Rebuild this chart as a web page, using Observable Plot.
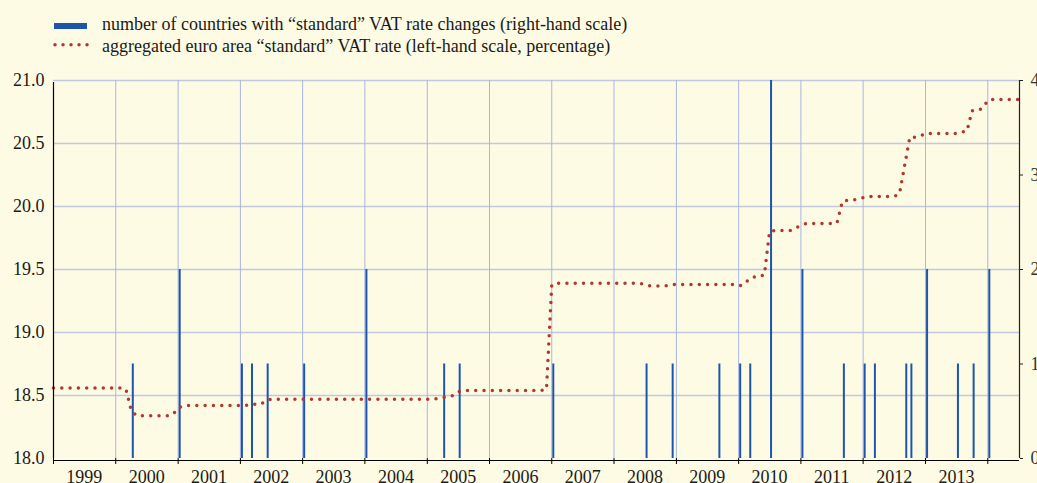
<!DOCTYPE html>
<html>
<head>
<meta charset="utf-8">
<script src="https://cdn.jsdelivr.net/npm/d3@7"></script>
<script src="https://cdn.jsdelivr.net/npm/@observablehq/plot@0.6"></script>
<style>
  html, body { margin: 0; padding: 0; background: #fefbe4; }
  #wrap { width: 1037px; height: 483px; overflow: hidden; position: relative; }
  #legend { position: relative; height: 60px; font-family: "Liberation Serif", serif; font-size: 18px; color: #1a1a1a; }
  #legend .t { position: absolute; left: 102px; line-height: 18px; white-space: nowrap; }
</style>
</head>
<body>
<div id="wrap">
  <div id="legend">
    <div style="position:absolute;left:54px;top:23px;width:33px;height:6px;background:#1d55ad;"></div>
    <div class="t" style="top:15px;">number of countries with “standard” VAT rate changes (right-hand scale)</div>
    <svg style="position:absolute;left:50px;top:40px;" width="45" height="10">
      <line x1="5" y1="4.7" x2="37.01" y2="4.7" stroke="#b0392f" stroke-width="3.5" stroke-linecap="round" stroke-dasharray="0 8"></line>
    </svg>
    <div class="t" style="top:37px;">aggregated euro area “standard” VAT rate (left-hand scale, percentage)</div>
  </div>
  <div id="chart"></div>
</div>
<script>
// ---- data ----
// Aggregated euro area standard VAT rate, monthly, starting January 1999
const vatStartYear = 1999;
const vatRate = [
  // 1999
  18.56, 18.56, 18.56, 18.56, 18.56, 18.56, 18.56, 18.56, 18.56, 18.56, 18.56, 18.56,
  // 2000
  18.56, 18.56, 18.55, 18.38, 18.34, 18.34, 18.34, 18.34, 18.34, 18.34, 18.34, 18.35,
  // 2001
  18.40, 18.42, 18.42, 18.42, 18.42, 18.42, 18.42, 18.42, 18.42, 18.42, 18.42, 18.42,
  // 2002
  18.42, 18.42, 18.43, 18.43, 18.43, 18.46, 18.47, 18.47, 18.47, 18.47, 18.47, 18.47,
  // 2003
  18.47, 18.47, 18.47, 18.47, 18.47, 18.47, 18.47, 18.47, 18.47, 18.47, 18.47, 18.47,
  // 2004
  18.47, 18.47, 18.47, 18.47, 18.47, 18.47, 18.47, 18.47, 18.47, 18.47, 18.47, 18.47,
  // 2005
  18.47, 18.47, 18.475, 18.485, 18.49, 18.50, 18.53, 18.54, 18.54, 18.54, 18.54, 18.54,
  // 2006
  18.54, 18.54, 18.54, 18.54, 18.54, 18.54, 18.54, 18.54, 18.54, 18.54, 18.54, 18.55,
  // 2007
  19.38, 19.39, 19.39, 19.39, 19.39, 19.39, 19.39, 19.39, 19.39, 19.39, 19.39, 19.39,
  // 2008
  19.39, 19.39, 19.39, 19.39, 19.39, 19.39, 19.38, 19.37, 19.37, 19.37, 19.37, 19.38,
  // 2009
  19.38, 19.38, 19.38, 19.38, 19.38, 19.38, 19.38, 19.38, 19.38, 19.38, 19.38, 19.38,
  // 2010
  19.37, 19.38, 19.42, 19.44, 19.44, 19.46, 19.80, 19.81, 19.81, 19.81, 19.81, 19.83,
  // 2011
  19.85, 19.865, 19.865, 19.865, 19.865, 19.865, 19.865, 19.87, 20.04, 20.05, 20.05, 20.06,
  // 2012
  20.07, 20.08, 20.08, 20.08, 20.08, 20.08, 20.08, 20.10, 20.33, 20.55, 20.55, 20.56,
  // 2013
  20.58, 20.58, 20.58, 20.58, 20.58, 20.58, 20.58, 20.59, 20.60, 20.76, 20.76, 20.78,
  // 2014
  20.84, 20.85, 20.85, 20.85, 20.85, 20.85, 20.85
];

// Number of countries with standard VAT rate changes
const changeDates = [
  "2000-04-10", "2001-01-10", "2002-01-10", "2002-03-10", "2002-06-10", "2003-01-10",
  "2004-01-10", "2005-04-10", "2005-07-10", "2007-01-10", "2008-07-10", "2008-12-10",
  "2009-09-10", "2010-01-10", "2010-03-10", "2010-07-10", "2011-01-10", "2011-09-10",
  "2012-01-10", "2012-03-10", "2012-09-10", "2012-10-10", "2013-01-10", "2013-07-10",
  "2013-10-10", "2014-01-10"
];
const changeCounts = [
  1, 2, 1, 1, 1, 1,
  2, 1, 1, 1, 1, 1,
  1, 1, 1, 4, 2, 1,
  1, 1, 1, 1, 2, 1,
  1, 2
];

const years = [1999, 2000, 2001, 2002, 2003, 2004, 2005, 2006, 2007, 2008, 2009, 2010, 2011, 2012, 2013];
const leftTicks = [18.0, 18.5, 19.0, 19.5, 20.0, 20.5, 21.0];
const rightTicks = [0, 1, 2, 3, 4];

// ---- build ----
const leftDomain = [18, 21];
const rightDomain = [0, 4];
const toLeft = c => leftDomain[0] + (c - rightDomain[0]) * (leftDomain[1] - leftDomain[0]) / (rightDomain[1] - rightDomain[0]);
const fromLeft = v => rightDomain[0] + (v - leftDomain[0]) * (rightDomain[1] - rightDomain[0]) / (leftDomain[1] - leftDomain[0]);

const vatData = vatRate.map((v, i) => ({date: new Date(Date.UTC(vatStartYear, i, 1)), value: v}));
const barData = changeDates.map((d, i) => ({date: new Date(d + "T00:00:00Z"), count: changeCounts[i]}));
const boundaries = years.concat([years[years.length - 1] + 1]).map(y => new Date(Date.UTC(y, 0, 1)));
const mids = years.map(y => new Date(Date.UTC(y, 6, 1)));
const xStart = new Date(Date.UTC(1999, 0, 1));
const xEnd = new Date(Date.UTC(2014, 6, 6));

const chart = Plot.plot({
  width: 1037,
  height: 423,
  marginLeft: 53,
  marginRight: 18,
  marginTop: 20,
  marginBottom: 25,
  style: {background: "transparent", fontFamily: "Liberation Serif, serif", fontSize: "18px", color: "#1a1a1a", overflow: "visible"},
  x: {type: "utc", domain: [xStart, xEnd], label: null},
  y: {domain: leftDomain, label: null},
  marks: [
    Plot.ruleY(leftTicks.slice(1), {stroke: "#c2c8e0", strokeWidth: 1.5}),
    Plot.ruleX(boundaries.slice(1), {stroke: "#a9b6e6", strokeWidth: 1}),
    Plot.ruleX(barData, {x: "date", y1: leftDomain[0], y2: d => toLeft(d.count), stroke: "#1d55ad", strokeWidth: 2}),
    Plot.line(vatData, {x: "date", y: "value", stroke: "#b0392f", strokeWidth: 3.5, strokeLinecap: "round", strokeDasharray: "0 8.3"}),
    Plot.ruleX([xStart], {y1: leftDomain[0], y2: leftDomain[1], stroke: "#000", strokeWidth: 1.2, insetBottom: -2}),
    Plot.ruleX([xEnd], {y1: leftDomain[0], y2: leftDomain[1], stroke: "#222", strokeWidth: 1.2}),
    Plot.ruleY([leftDomain[0]], {stroke: "#000", strokeWidth: 1.2, dy: 2}),
    Plot.axisY({anchor: "left", ticks: leftTicks, tickFormat: d3.format(".1f"), tickSize: 0, tickPadding: 9, label: null}),
    Plot.axisY({anchor: "right", ticks: rightTicks.map(toLeft), tickFormat: d => String(Math.round(fromLeft(d))), tickSize: 3, tickPadding: 8, stroke: "#222", fill: "#333", label: null}),
    Plot.axisX({ticks: boundaries, tickFormat: () => "", tickSize: 6, stroke: "#000", label: null}),
    Plot.axisX({ticks: mids, tickFormat: d3.utcFormat("%Y"), tickSize: 0, tickPadding: 12, label: null})
  ]
});
document.getElementById("chart").appendChild(chart);
</script>
</body>
</html>
